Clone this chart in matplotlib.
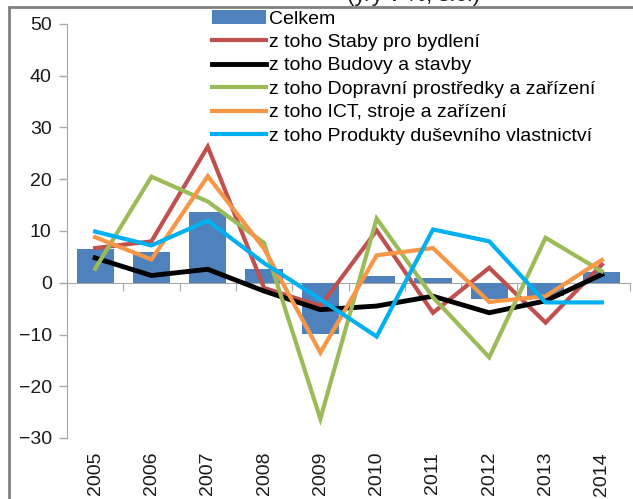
import matplotlib
matplotlib.use('Agg')
import matplotlib.pyplot as plt
from matplotlib.patches import Rectangle
import numpy as np

plt.rcParams['font.family'] = ['Liberation Sans', 'DejaVu Sans']

years = ['2005', '2006', '2007', '2008', '2009', '2010', '2011', '2012', '2013', '2014']
celkem = [6.5, 6.0, 13.7, 2.6, -9.9, 1.3, 1.0, -3.1, -2.6, 2.1]
staby = [6.7, 8.0, 26.3, -1.0, -4.5, 10.1, -5.8, 2.9, -7.7, 3.5]
budovy = [4.8, 1.4, 2.6, -1.6, -5.2, -4.5, -2.6, -5.8, -3.5, 1.6]
dopravni = [2.7, 20.5, 15.7, 7.7, -26.3, 12.4, -2.8, -14.4, 8.7, 2.2]
ict = [8.8, 4.5, 20.6, 6.6, -13.5, 5.3, 6.7, -3.7, -2.6, 4.4]
produkty = [9.9, 7.2, 12.0, 3.8, -3.2, -10.4, 10.3, 8.0, -3.8, -3.8]

series = [
    ('z toho Staby pro bydlení', staby, '#C0504D', 3),
    ('z toho Budovy a stavby', budovy, '#000000', 3.5),
    ('z toho Dopravní prostředky a zařízení', dopravni, '#9BBB59', 3),
    ('z toho ICT, stroje a zařízení', ict, '#F79646', 3),
    ('z toho Produkty duševního vlastnictví', produkty, '#00B0F0', 3),
]

fig = plt.figure(figsize=(6.33, 4.99), dpi=100)
ax = fig.add_axes([67/633, 1 - 438/499, 563/633, 414/499])

x = np.arange(len(years))
bars = ax.bar(x, celkem, width=0.66, color='#4F81BD', zorder=1)
handles = [bars]
for label, vals, col, lw in series:
    ln, = ax.plot(x, vals, color=col, lw=lw, solid_joinstyle='miter', zorder=3)
    handles.append(ln)

ax.set_xlim(-0.5, len(years) - 0.5)
ax.set_ylim(-30, 50)
ax.set_yticks(range(-30, 51, 10))

grey = '#A6A6A6'
for s in ['top', 'right', 'bottom']:
    ax.spines[s].set_visible(False)
ax.spines['left'].set_color(grey)
ax.tick_params(axis='y', direction='out', length=6, width=1, color=grey,
               labelsize=14, pad=5, labelcolor='#1a1a1a')

# year labels under the plot, no tick marks
ax.set_xticks(x)
ax.set_xticklabels(years, rotation=90, fontsize=14, color='#1a1a1a')
ax.tick_params(axis='x', length=0, pad=10)

# category axis line at zero with boundary ticks
zero = ax.secondary_xaxis(30/80)
zero.set_xticks(np.arange(-0.5, len(years), 1.0))
zero.set_xticklabels([])
zero.spines['bottom'].set_color(grey)
zero.tick_params(direction='out', length=6, color=grey)

leg = ax.legend(handles, ['Celkem'] + [s[0] for s in series],
                loc='upper left', bbox_to_anchor=(212/633, 1 - 10/499),
                bbox_transform=fig.transFigure, frameon=False, fontsize=14,
                handlelength=2.8, handletextpad=0.15, labelspacing=0.3,
                borderpad=0, borderaxespad=0)

fig.text(0.653, 1 - 1/499, '(y/y v %, s.c.)', fontsize=16, ha='center',
         va='baseline', color='#1a1a1a')

fig.patches.append(Rectangle((9/633, -0.1), 1.2, 1.1 - 7/499, fill=False,
                             edgecolor='#808080', lw=2, transform=fig.transFigure))

fig.savefig('out.png', dpi=100)
